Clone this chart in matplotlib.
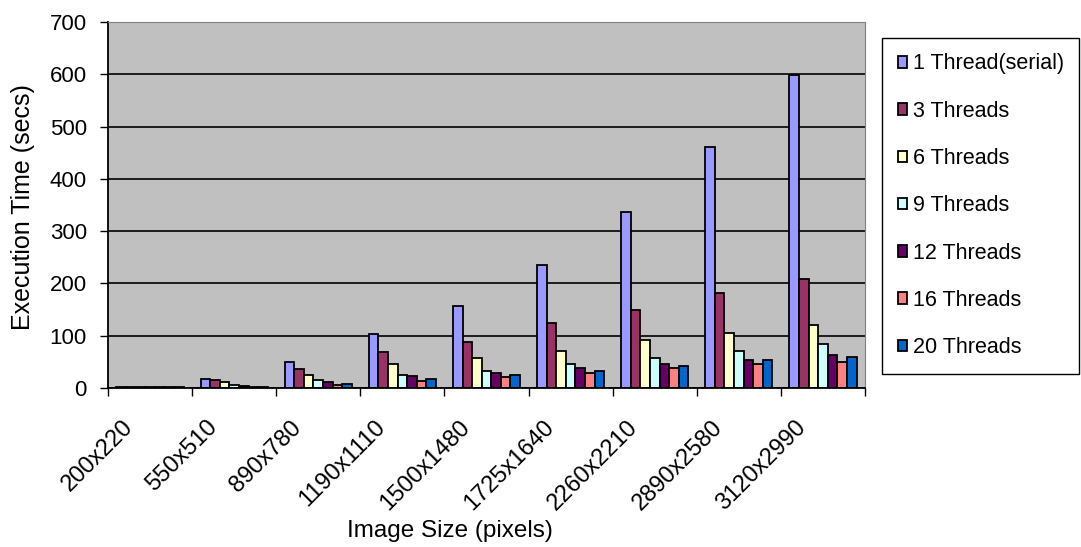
import numpy as np
import matplotlib
matplotlib.use("Agg")
import matplotlib.pyplot as plt
from matplotlib.transforms import ScaledTranslation

plt.rcParams['font.family'] = ['Liberation Sans', 'DejaVu Sans']

# image sizes and timings (secs) for each thread count
sizes = ['200x220', '550x510', '890x780', '1190x1110', '1500x1480',
         '1725x1640', '2260x2210', '2890x2580', '3120x2990']
series = ['1 Thread(serial)', '3 Threads', '6 Threads', '9 Threads',
          '12 Threads', '16 Threads', '20 Threads']
t1 = [2, 18, 50, 103, 156, 236, 336, 460, 599]
t3 = [2, 15, 36, 68, 88, 124, 149, 181, 209]
t6 = [2, 11, 25, 46, 57, 71, 92, 106, 120]
t9 = [2, 6, 15, 25, 32, 45, 57, 71, 85]
t12 = [2, 3, 11, 22, 29, 39, 46, 53, 64]
t16 = [2, 2, 6, 14, 21, 28, 39, 46, 50]
t20 = [2, 2, 7, 18, 25, 32, 42, 53, 60]
times = [t1, t3, t6, t9, t12, t16, t20]

colors = ['#9999FF', '#993366', '#FFFFCC', '#CCFFFF', '#660066', '#FF8080', '#0066CC']

fig = plt.figure(figsize=(10.81, 5.47), dpi=100)
ax = fig.add_axes([108/1081, 1 - 388/547, (865 - 108)/1081, (388 - 22)/547])
ax.set_facecolor('#C0C0C0')

x = np.arange(len(sizes))
w = 0.114
for j, (vals, c, lab) in enumerate(zip(times, colors, series)):
    ax.bar(x + (j - 3) * w, vals, w, color=c, edgecolor='black', linewidth=1.3, label=lab)

ax.set_xlim(-0.5, len(sizes) - 0.5)
ax.set_ylim(0, 700)
ax.set_yticks(range(0, 701, 100))
ax.yaxis.grid(True, color='black', linewidth=1.2)
ax.set_axisbelow(True)

for s in ['top', 'right']:
    ax.spines[s].set_color('#808080')
for s in ['left', 'bottom']:
    ax.spines[s].set_color('black')
    ax.spines[s].set_linewidth(1.3)

ax.tick_params(axis='y', direction='out', length=5.8, width=1, pad=9.4, labelsize=16)
ax.set_xticks(x)
ax.set_xticks(np.arange(-0.5, len(sizes), 1), minor=True)
ax.tick_params(axis='x', which='major', length=0, pad=26)
ax.tick_params(axis='x', which='minor', direction='out', length=5.8, width=1)
ax.set_xticklabels(sizes, rotation=45, ha='right', va='center',
                   rotation_mode='anchor', fontsize=17)
shift = ScaledTranslation(-20/100, 0, fig.dpi_scale_trans)
for t in ax.get_xticklabels():
    t.set_transform(t.get_transform() + shift)

fig.text(23/1081, 1 - 207/547, 'Execution Time (secs)', rotation=90,
         ha='center', va='center', fontsize=18)
fig.text(450/1081, 1 - 531/547, 'Image Size (pixels)', ha='center',
         va='center', fontsize=17.5)

leg = ax.legend(loc='upper left', bbox_to_anchor=(882/1081, 1 - 38/547),
                bbox_transform=fig.transFigure, borderaxespad=0, borderpad=0.72,
                fontsize=15.5, handlelength=0.45, handleheight=0.45,
                handletextpad=0.25, labelspacing=1.22, fancybox=False,
                framealpha=1, edgecolor='black')
leg.get_frame().set_linewidth(1.0)

fig.savefig('out.png', dpi=100)
